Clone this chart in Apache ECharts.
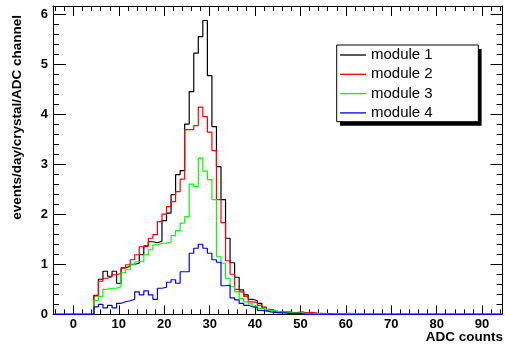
<!DOCTYPE html>
<html>
<head>
<meta charset="utf-8">
<script src="https://cdn.jsdelivr.net/npm/echarts@6/dist/echarts.min.js"></script>
<style>
html,body{margin:0;padding:0;background:#fff;}
#c{width:505px;height:347px;}
</style>
</head>
<body>
<div id="c"></div>
<script>
// Histogram bins are 1 ADC wide, centred on integers; arrays start at firstBin
const firstBin = 5;
const seriesNames = ['module 1', 'module 2', 'module 3', 'module 4'];
const module1 = [0.38,0.70,0.86,0.76,0.86,0.62,0.93,0.96,1.00,1.02,1.19,1.37,1.45,1.43,1.46,1.87,2.02,2.39,2.79,2.87,3.80,4.45,5.22,5.55,5.87,4.77,3.75,2.95,2.29,1.52,1.03,0.74,0.49,0.39,0.30,0.27,0.22,0.14,0.09,0.06,0.05,0.04,0.05,0.03,0.03,0.02,0.03,0.02,0.01,0.02,0.01,0.01,0.00,0.01,0.00,0.01];
const module2 = [0.37,0.66,0.72,0.75,0.79,0.82,0.92,0.99,1.09,1.19,1.35,1.36,1.52,1.59,1.85,2.00,2.15,2.25,2.45,2.70,3.69,3.69,3.77,4.14,3.95,3.64,3.27,2.29,1.83,1.07,0.80,0.50,0.45,0.36,0.25,0.24,0.18,0.14,0.10,0.07,0.05,0.05,0.03,0.03,0.04,0.05,0.02,0.04,0.03,0.01,0.02,0.01,0.01,0.00,0.01,0.02];
const module3 = [0.28,0.36,0.50,0.52,0.52,0.55,0.83,0.89,0.99,1.05,1.05,1.19,1.29,1.39,1.42,1.42,1.45,1.57,1.67,1.82,1.95,2.60,2.55,3.12,2.86,2.69,2.29,1.15,1.02,0.72,0.55,0.45,0.32,0.25,0.21,0.16,0.12,0.10,0.08,0.07,0.05,0.04,0.05,0.03,0.03,0.02,0.02,0.01,0.02,0.01,0.01,0.00,0.01,0.01,0.01,0.02,0.02];
const module4 = [0.15,0.20,0.13,0.18,0.13,0.22,0.25,0.27,0.30,0.45,0.39,0.47,0.39,0.30,0.52,0.54,0.64,0.69,0.62,0.85,0.85,1.22,1.32,1.40,1.32,1.22,1.09,1.04,0.57,0.58,0.33,0.29,0.22,0.18,0.15,0.14,0.08,0.07,0.05,0.04,0.03,0.03,0.02,0.02,0.02,0.01];
const xTicks = [0,10,20,30,40,50,60,70,80,90];
const yTicks = [0,1,2,3,4,5,6];
const xMin = -4.5, xMax = 94.5, yMax = 6.16;
const colors = ['#000000','#ff0000','#00ff00','#0000ff'];

function steps(vals){
  const pts = [];
  for (let k = -4; k <= 94; k++) {
    const i = k - firstBin;
    const v = (i >= 0 && i < vals.length) ? vals[i] : 0;
    pts.push([k - 0.5, v], [k + 0.5, v]);
  }
  return pts;
}
const xMinor = [];
for (let v = -4; v <= 94; v += 2) if (v % 10 !== 0) xMinor.push(v);
const yMinor = [];
for (let i = 1; i <= 30; i++) if (i % 5 !== 0) yMinor.push(+(i * 0.2).toFixed(1));

const font = 'Liberation Sans, Arial, Helvetica, sans-serif';
const black = '#000';
function xAx(pos, vals, len, showLine, labels){
  return {type:'value', position:pos, min:xMin, max:xMax,
    axisLine:{show:showLine, onZero:false, lineStyle:{color:black, width:1}},
    axisTick:{show:true, inside:true, length:len, customValues:vals, lineStyle:{color:black, width:1}},
    axisLabel:labels ? {show:true, customValues:vals, margin:4, color:black, fontFamily:font, fontWeight:'bold', fontSize:13} : {show:false},
    splitLine:{show:false}};
}
function yAx(pos, vals, len, showLine, labels){
  return {type:'value', position:pos, min:0, max:yMax,
    axisLine:{show:showLine, onZero:false, lineStyle:{color:black, width:1}},
    axisTick:{show:true, inside:true, length:len, customValues:vals, lineStyle:{color:black, width:1}},
    axisLabel:labels ? {show:true, customValues:vals, margin:5, color:black, fontFamily:font, fontWeight:'bold', fontSize:13} : {show:false},
    splitLine:{show:false}};
}

const chart = echarts.init(document.getElementById('c'), null, {renderer:'canvas'});
const dataSets = [module1, module2, module3, module4];
chart.setOption({
  animation:false,
  backgroundColor:'#fff',
  grid:{left:53, right:2.5, top:6, bottom:32.7, containLabel:false},
  xAxis:[
    xAx('bottom', xTicks, 9, true, true),
    xAx('bottom', xMinor, 5, false, false),
    xAx('top', xTicks, 10, true, false),
    xAx('top', xMinor, 5, false, false)
  ],
  yAxis:[
    yAx('left', yTicks, 13, true, true),
    yAx('left', yMinor, 6, false, false),
    yAx('right', yTicks, 12, true, false),
    yAx('right', yMinor, 6, false, false)
  ],
  legend:{
    show:true, orient:'vertical', left:340, top:47.5, padding:0,
    icon:'rect', itemWidth:26, itemHeight:1.3, itemGap:4.3,
    textStyle:{fontFamily:font, fontSize:15, color:black, lineHeight:15},
    data:seriesNames, z:10
  },
  graphic:[
    {type:'rect', z:5, shape:{x:340, y:49, width:141.6, height:76.7}, style:{fill:'#000'}},
    {type:'rect', z:6, shape:{x:336.7, y:45, width:141.6, height:76.7}, style:{fill:'#fff', stroke:'#000', lineWidth:1}},
    {type:'text', z:6, x:503, y:337, style:{text:'ADC counts', align:'right', verticalAlign:'middle', font:'bold 13.5px ' + font, fill:black}},
    {type:'text', z:6, x:17.5, y:15, rotation:Math.PI/2, style:{text:'events/day/crystal/ADC channel', align:'right', verticalAlign:'middle', font:'bold 13.5px ' + font, fill:black}}
  ],
  series:dataSets.map((d, i) => ({
    name:seriesNames[i], type:'line', xAxisIndex:0, yAxisIndex:0,
    data:steps(d), showSymbol:false, symbol:'none', clip:true,
    lineStyle:{color:colors[i], width:1.2}, itemStyle:{color:colors[i]},
    emphasis:{disabled:true}
  }))
});
</script>
</body>
</html>
